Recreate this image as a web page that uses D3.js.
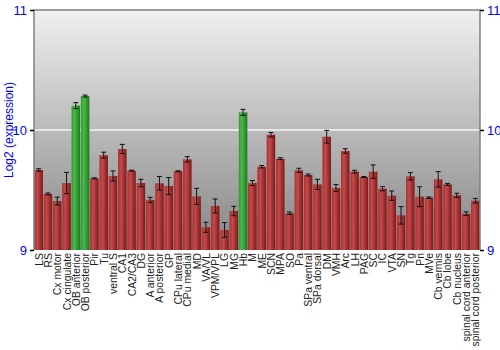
<!DOCTYPE html>
<html>
<head>
<meta charset="utf-8">
<script src="https://cdn.jsdelivr.net/npm/d3@7"></script>
<style>
  body { margin: 0; background: #fff; }
  text { font-family: "Liberation Sans", Arial, sans-serif; }
</style>
</head>
<body>
<div id="chart-area"></div>
<script>
const regions = ["LS", "RS", "Cx motor", "Cx cingulate", "OB anterior", "OB posterior", "Pir", "Tu",
    "ventral S", "CA1", "CA2/CA3", "DG", "A anterior", "A posterior", "GP", "CPu lateral",
    "CPu medial", "MD", "VA/VL", "VPM/VPL", "LG", "MG", "Hb", "M", "ME", "SCN", "MPA", "SO",
    "Pa", "SPa ventral", "SPa dorsal", "DM", "VMH", "Arc", "LH", "PAG", "SC", "IC", "VTA", "SN",
    "Tg", "Pn", "MVe", "Cb vermis", "Cb lobe", "Cb nucleus", "spinal cord anterior", "spinal cord posterior"];

const expression = [9.667, 9.467, 9.408, 9.558, 10.203, 10.283, 9.597, 9.79,
    9.617, 9.842, 9.661, 9.558, 9.417, 9.556, 9.533, 9.656,
    9.756, 9.447, 9.189, 9.367, 9.167, 9.325, 10.147, 9.558, 9.694, 9.961, 9.761, 9.306,
    9.664, 9.625, 9.547, 9.944, 9.517, 9.825, 9.653, 9.608, 9.653, 9.511, 9.453, 9.289,
    9.614, 9.444, 9.436, 9.589, 9.547, 9.456, 9.303, 9.411];

const errors = [0.01, 0.008, 0.033, 0.089, 0.025, 0.008, 0.004, 0.025,
    0.042, 0.038, 0.004, 0.031, 0.022, 0.056, 0.071, 0.004,
    0.022, 0.067, 0.042, 0.058, 0.061, 0.039, 0.025, 0.021, 0.01, 0.019, 0.008, 0.01,
    0.017, 0.008, 0.042, 0.053, 0.029, 0.019, 0.011, 0.004, 0.056, 0.017, 0.039, 0.073,
    0.031, 0.083, 0.006, 0.064, 0.008, 0.017, 0.015, 0.019];

// regions drawn in green
const highlighted = ["OB anterior", "OB posterior", "Hb"];

const yTicks = [9, 10, 11];

const data = regions.map(function(r, i) {
    return { region: r, value: expression[i], err: errors[i] };
});

const margin = { left: 34, right: 20, top: 10, bottom: 100 };
const width = 480 - margin.left;
const height = 250 - margin.top;

const svg = d3.select("#chart-area")
    .append("svg")
    .attr("width", 500)
    .attr("height", 350);

const defs = svg.append("defs");

// background gradient
const bg = defs.append("linearGradient")
    .attr("id", "bgGrad")
    .attr("x1", 0).attr("y1", 0).attr("x2", 0).attr("y2", 1);
bg.append("stop").attr("offset", "0%").attr("stop-color", "#f0f0f0");
bg.append("stop").attr("offset", "100%").attr("stop-color", "#858585");

function barGradient(id, light, mid, dark) {
    const gr = defs.append("linearGradient")
        .attr("id", id)
        .attr("x1", 0).attr("y1", 0).attr("x2", 1).attr("y2", 0);
    gr.append("stop").attr("offset", "0%").attr("stop-color", mid);
    gr.append("stop").attr("offset", "35%").attr("stop-color", light);
    gr.append("stop").attr("offset", "100%").attr("stop-color", dark);
}
barGradient("redGrad", "#c44a4a", "#a83030", "#7e1818");
barGradient("greenGrad", "#4cb84c", "#2e9a2e", "#1c7a1c");

const g = svg.append("g")
    .attr("transform", "translate(" + margin.left + ", " + margin.top + ")");

// X Scale
const x = d3.scaleBand()
    .domain(regions)
    .range([0, width])
    .paddingInner(0.08)
    .paddingOuter(0.04);

// Y Scale
const y = d3.scaleLinear()
    .domain([9, 11])
    .range([height, 0]);

g.append("rect")
    .attr("width", width)
    .attr("height", height)
    .attr("fill", "url(#bgGrad)");

// gridline at 10
g.selectAll(".grid")
    .data(yTicks.filter(function(d) { return d > 9 && d < 11; }))
    .enter()
    .append("line")
    .attr("x1", 0)
    .attr("x2", width)
    .attr("y1", function(d) { return y(d); })
    .attr("y2", function(d) { return y(d); })
    .attr("stroke", "#f4f4f4")
    .attr("stroke-width", 1.5);

// Bars
g.selectAll(".bar")
    .data(data)
    .enter()
    .append("rect")
    .attr("class", "bar")
    .attr("x", function(d) { return x(d.region); })
    .attr("y", function(d) { return y(d.value); })
    .attr("width", x.bandwidth())
    .attr("height", function(d) { return height - y(d.value); })
    .attr("fill", function(d) {
        return highlighted.indexOf(d.region) >= 0 ? "url(#greenGrad)" : "url(#redGrad)";
    });

// Error bars
const errG = g.selectAll(".err")
    .data(data)
    .enter()
    .append("g")
    .attr("class", "err")
    .attr("stroke", "#111")
    .attr("stroke-width", 1);

errG.append("line")
    .attr("x1", function(d) { return x(d.region) + x.bandwidth() / 2; })
    .attr("x2", function(d) { return x(d.region) + x.bandwidth() / 2; })
    .attr("y1", function(d) { return y(d.value + d.err); })
    .attr("y2", function(d) { return y(d.value - d.err); });

errG.selectAll(".cap")
    .data(function(d) { return [d.value + d.err, d.value - d.err].map(function(v) { return { region: d.region, v: v }; }); })
    .enter()
    .append("line")
    .attr("x1", function(d) { return x(d.region) + x.bandwidth() / 2 - 2.5; })
    .attr("x2", function(d) { return x(d.region) + x.bandwidth() / 2 + 2.5; })
    .attr("y1", function(d) { return y(d.v); })
    .attr("y2", function(d) { return y(d.v); });

// frame
g.append("path")
    .attr("d", "M0," + height + "V0H" + width + "V" + height)
    .attr("fill", "none")
    .attr("stroke", "#808080")
    .attr("stroke-width", 1.5);

// Y Axes, left and right
const yAxisLeft = g.append("g")
    .call(d3.axisLeft(y).tickValues(yTicks).tickSize(4).tickFormat(d3.format("d")));
const yAxisRight = g.append("g")
    .attr("transform", "translate(" + width + ",0)")
    .call(d3.axisRight(y).tickValues(yTicks).tickSize(4).tickFormat(d3.format("d")));

[yAxisLeft, yAxisRight].forEach(function(ax) {
    ax.select(".domain").remove();
    ax.selectAll(".tick line").attr("stroke", "#000").attr("stroke-width", 1.5);
    ax.selectAll(".tick text")
        .attr("fill", "#0000ff")
        .attr("font-size", "13px")
        .attr("font-family", "Liberation Sans, Arial, sans-serif");
});

// X labels
g.selectAll(".xlabel")
    .data(regions)
    .enter()
    .append("text")
    .attr("class", "xlabel")
    .attr("transform", function(d) {
        return "translate(" + (x(d) + x.bandwidth() / 2 + 4) + "," + (height + 3) + ") rotate(-90)";
    })
    .attr("text-anchor", "end")
    .attr("font-size", "10.4px")
    .attr("fill", "#222")
    .text(function(d) { return d; });

// Y Label
g.append("text")
    .attr("x", -(height / 2))
    .attr("y", -21)
    .attr("transform", "rotate(-90)")
    .attr("text-anchor", "middle")
    .attr("font-size", "12px")
    .attr("fill", "#0000ff")
    .text("Log2 (expression)");
</script>
</body>
</html>
